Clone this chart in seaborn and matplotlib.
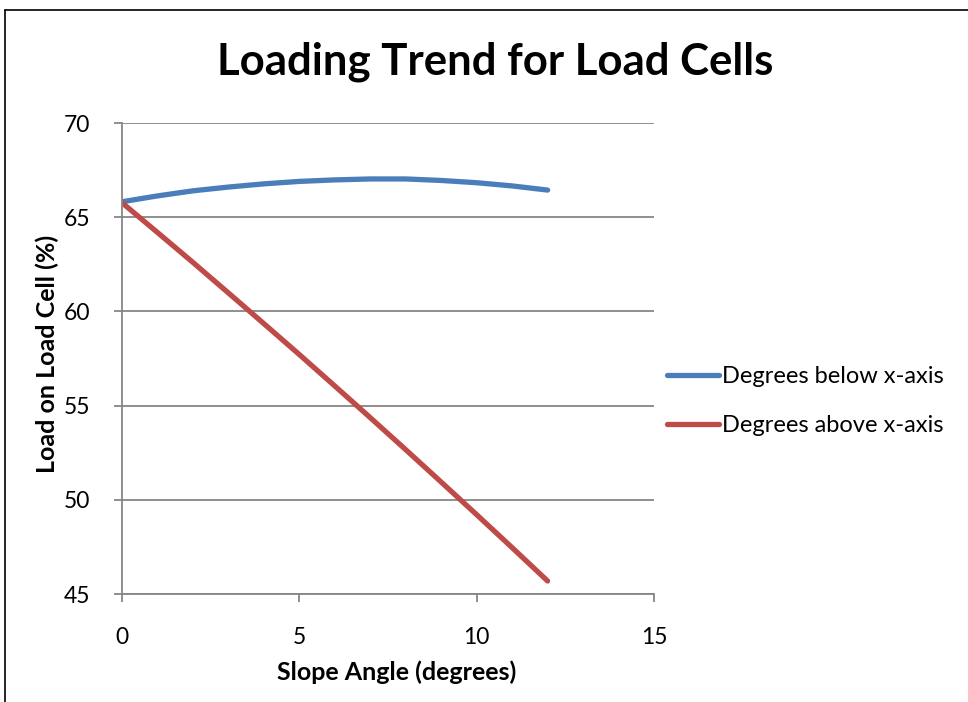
import numpy as np
import pandas as pd
import matplotlib
matplotlib.use("Agg")
import matplotlib.pyplot as plt
from matplotlib.lines import Line2D
import seaborn as sns

# Slope angle in degrees and measured share of load on the cell (%)
angles = [0, 1, 2, 3, 4, 5, 6, 7, 8, 9, 10, 11, 12]
below_axis = [65.82, 66.13, 66.40, 66.60, 66.77, 66.90, 66.98, 67.03, 67.03,
              66.95, 66.83, 66.66, 66.44]
above_axis = [65.77, 64.19, 62.60, 60.98, 59.35, 57.71, 56.04, 54.36, 52.66,
              50.94, 49.21, 47.46, 45.69]
series_names = ["Degrees below x-axis", "Degrees above x-axis"]
x_ticks = [0, 5, 10, 15]
y_ticks = [45, 50, 55, 60, 65, 70]

df = pd.concat([
    pd.DataFrame({"angle": angles, "load": below_axis, "series": series_names[0]}),
    pd.DataFrame({"angle": angles, "load": above_axis, "series": series_names[1]}),
])

sns.set_theme(style="white")
plt.rcParams["font.family"] = ["Lato", "DejaVu Sans"]
plt.rcParams["text.color"] = "black"
plt.rcParams["axes.labelcolor"] = "black"

W, H = 968, 702
fig = plt.figure(figsize=(W / 100, H / 100), dpi=100)
ax = fig.add_axes([122 / W, 1 - 594 / H, (654 - 122) / W, (594 - 123) / H])

palette = {series_names[0]: "#4A7EBB", series_names[1]: "#BE4B48"}
sns.lineplot(data=df, x="angle", y="load", hue="series", palette=palette,
             linewidth=3.8, ax=ax, legend=False, sort=True)
for ln in ax.get_lines():
    ln.set_solid_capstyle("round")
    ln.set_solid_joinstyle("round")

grid_c = "#868686"
ax.set_xlim(0, 15)
ax.set_ylim(45, 70)
ax.set_xticks(x_ticks)
ax.set_yticks(y_ticks)
ax.set_xticklabels([str(v) for v in x_ticks])
ax.set_yticklabels([str(v) for v in y_ticks])
ax.yaxis.grid(True, color=grid_c, linewidth=1.3)
ax.set_axisbelow(True)
for side in ["top", "right"]:
    ax.spines[side].set_visible(False)
for side in ["left", "bottom"]:
    ax.spines[side].set_color(grid_c)
    ax.spines[side].set_linewidth(1.3)
ax.tick_params(axis="both", which="major", direction="out", length=6,
               width=1.3, color=grid_c, labelsize=16.5, labelcolor="black",
               bottom=True, left=True)
ax.tick_params(axis="x", pad=18)
ax.tick_params(axis="y", pad=17)

ax.set_xlabel("Slope Angle (degrees)", fontsize=18, fontweight="bold")
ax.xaxis.set_label_coords(397 / W, 1 - 672 / H, transform=fig.transFigure)
ax.xaxis.label.set_va("center")
ax.set_ylabel("Load on Load Cell (%)", fontsize=18, fontweight="bold")
ax.yaxis.set_label_coords(47 / W, 1 - 354 / H, transform=fig.transFigure)
ax.yaxis.label.set_va("center")

fig.text(495 / W, 1 - 62 / H, "Loading Trend for Load Cells", fontsize=31.5,
         fontweight="bold", ha="center", va="center")

handles = [Line2D([0], [0], color=palette[n], linewidth=3.8,
                  solid_capstyle="round") for n in series_names]
fig.legend(handles, series_names, loc="center left",
           bbox_to_anchor=(667 / W, 1 - 401 / H), frameon=False,
           fontsize=17, handlelength=2.2, handletextpad=0.15,
           labelspacing=1.2, borderaxespad=0, borderpad=0)

# Chart area border (top and left edges)
fig.add_artist(Line2D([5 / W, 1.0], [1 - 10 / H, 1 - 10 / H],
                      color="black", linewidth=1.2, transform=fig.transFigure))
fig.add_artist(Line2D([5 / W, 5 / W], [0.0, 1 - 10 / H],
                      color="black", linewidth=1.2, transform=fig.transFigure))

fig.savefig("out.png", dpi=100, facecolor="white")
